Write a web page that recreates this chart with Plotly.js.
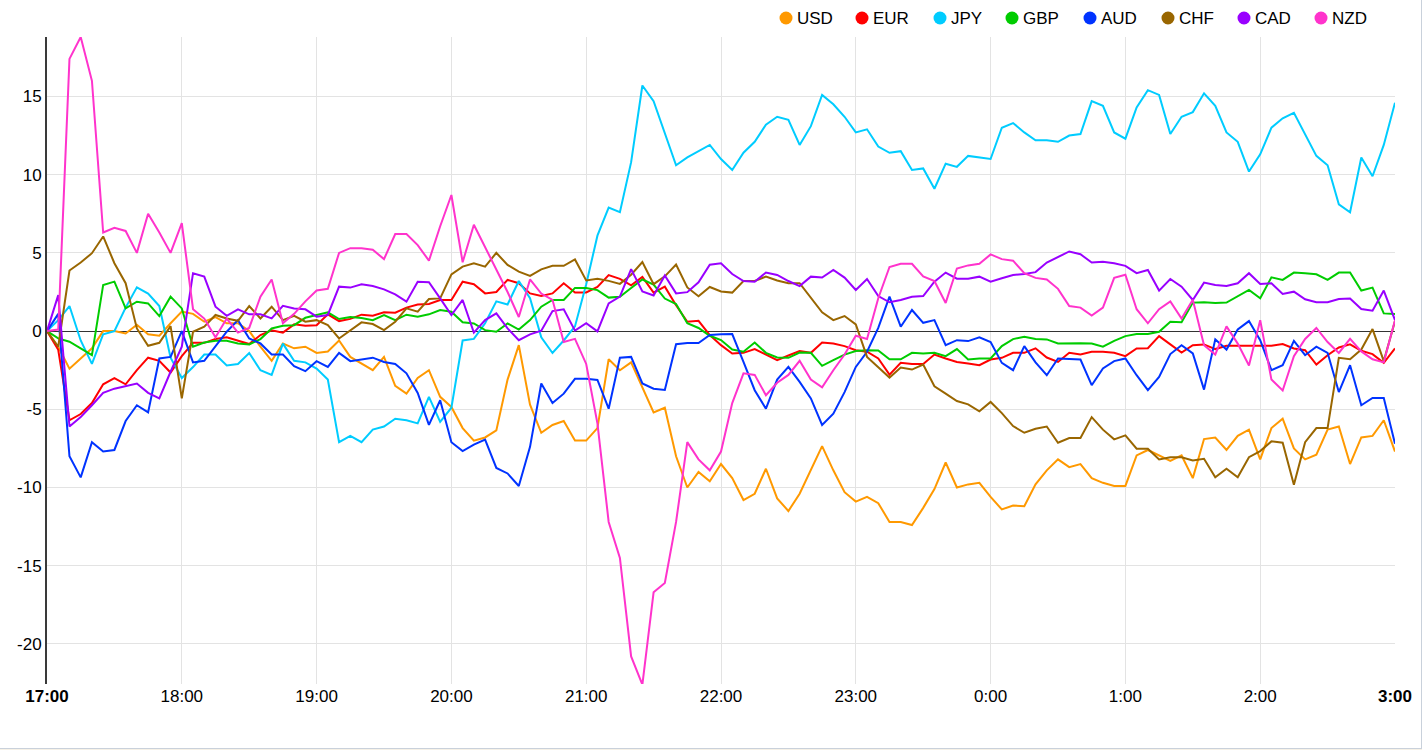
<!DOCTYPE html>
<html>
<head>
<meta charset="utf-8">
<script src="https://cdn.plot.ly/plotly-3.0.1.min.js"></script>
<style>
html,body{margin:0;padding:0;background:#f6f1e7;}
#chart{width:1421px;height:748px;background:#fff;border-right:1px solid #c9d1db;border-bottom:1px solid #c9d1db;}
</style>
</head>
<body>
<div id="chart"></div>
<script>
const currencies = ['USD','EUR','JPY','GBP','AUD','CHF','CAD','NZD'];
const colors = ['#ff9900','#ff0000','#00ccff','#00cc00','#0033ff','#996600','#9900ff','#ff33cc'];
const tickLabels = ['17:00','18:00','19:00','20:00','21:00','22:00','23:00','0:00','1:00','2:00','3:00'];
const yTickValues = [-20,-15,-10,-5,0,5,10,15];

const USD = [0,-1.0,-2.4,-1.75,-1.1,0,0,-0.15,0.4,-0.2,
-0.3,0.5,1.25,1.1,0.6,0.9,0.5,0.5,0,-1.0,
-1.9,-0.8,-1.1,-1.0,-1.4,-1.3,-0.6,-1.65,-2.1,-2.5,
-1.65,-3.5,-4.0,-3.0,-2.5,-4.2,-4.85,-6.2,-7.0,-6.8,
-6.35,-3.1,-0.9,-4.7,-6.5,-6.0,-5.75,-7.0,-7.0,-6.2,
-1.8,-2.5,-2.0,-3.6,-5.2,-4.9,-8.0,-10.0,-9.0,-9.6,
-8.5,-9.4,-10.8,-10.4,-8.8,-10.7,-11.5,-10.4,-8.9,-7.35,
-8.9,-10.3,-10.9,-10.6,-11.0,-12.2,-12.2,-12.4,-11.3,-10.1,
-8.4,-10.0,-9.8,-9.7,-10.6,-11.4,-11.15,-11.2,-9.8,-8.9,
-8.2,-8.7,-8.5,-9.4,-9.7,-9.9,-9.9,-7.95,-7.6,-7.95,
-8.3,-7.95,-9.4,-6.9,-6.8,-7.6,-6.7,-6.3,-8.2,-6.2,
-5.6,-7.5,-8.2,-7.9,-6.3,-6.1,-8.5,-6.8,-6.7,-5.7,
-7.7];

const EUR = [0,-1.2,-5.7,-5.3,-4.6,-3.4,-3.0,-3.4,-2.5,-1.7,
-1.9,-2.65,-1.6,-0.75,-0.75,-0.5,-0.4,-0.6,-0.83,-0.25,
0.05,-0.1,0.43,0.34,0.38,1.07,0.64,0.78,1.05,0.98,
1.2,1.18,1.5,1.7,1.73,1.99,1.99,3.16,3.0,2.41,
2.5,3.27,3.06,2.41,2.24,2.41,3.06,2.47,2.47,2.82,
3.58,3.34,2.92,3.46,2.46,2.84,1.65,0.6,0.66,-0.25,
-0.9,-1.43,-1.39,-1.15,-1.5,-1.86,-1.56,-1.28,-1.39,-0.73,
-0.79,-0.96,-1.22,-1.32,-1.75,-2.78,-2.03,-2.1,-2.1,-1.5,
-1.75,-1.97,-2.07,-2.18,-1.82,-1.71,-1.39,-1.39,-1.1,-1.69,
-1.97,-1.39,-1.5,-1.32,-1.32,-1.39,-1.6,-1.11,-1.09,-0.32,
-0.85,-1.37,-0.9,-0.85,-1.15,-0.94,-0.94,-0.92,-0.94,-0.94,
-0.83,-1.11,-1.22,-2.14,-1.54,-1.05,-0.85,-1.26,-1.47,-2.03,
-1.11];

const JPY = [0,0.7,1.6,-0.6,-2.1,-0.2,0.0,1.5,2.8,2.4,
1.6,-1.7,-3.0,-2.3,-1.5,-1.5,-2.2,-2.1,-1.4,-2.5,
-2.8,-0.8,-1.9,-2.0,-2.4,-3.1,-7.1,-6.7,-7.1,-6.3,
-6.1,-5.6,-5.7,-5.9,-4.2,-5.8,-4.9,-0.6,-0.5,0.5,
1.9,1.7,3.2,2.1,-0.4,-1.4,-0.6,0.3,3.0,6.1,
7.9,7.6,10.8,15.7,14.7,12.7,10.6,11.1,11.5,11.9,
11.0,10.3,11.4,12.1,13.2,13.7,13.5,11.9,13.1,15.1,
14.5,13.7,12.7,12.9,11.8,11.4,11.5,10.3,10.4,9.1,
10.7,10.5,11.2,11.1,11.0,13.0,13.3,12.7,12.2,12.2,
12.1,12.5,12.6,14.7,14.4,12.7,12.3,14.3,15.4,15.1,
12.6,13.7,14.0,15.2,14.4,12.7,12.1,10.2,11.3,13.0,
13.6,13.95,12.6,11.2,10.6,8.1,7.6,11.1,9.9,11.9,
14.6];

const GBP = [0,-0.47,-0.68,-1.1,-1.54,2.95,3.16,1.45,1.88,1.77,
0.96,2.2,1.45,-1.0,-0.73,-0.62,-0.62,-0.79,-0.85,-0.51,
0.17,0.34,0.38,0.85,1.03,1.2,0.77,0.9,0.83,0.7,
1.03,0.7,1.05,0.92,1.07,1.35,1.24,0.56,0.49,0.06,
-0.04,0.49,0.1,0.7,1.56,1.99,1.99,2.76,2.76,2.62,
2.14,2.2,2.76,3.3,2.97,2.08,1.73,0.5,0.2,-0.3,
-0.57,-1.18,-1.32,-0.73,-1.39,-1.69,-1.71,-1.37,-1.39,-2.22,
-1.86,-1.5,-1.28,-1.22,-1.24,-1.8,-1.8,-1.39,-1.43,-1.39,
-1.6,-1.15,-1.82,-1.75,-1.75,-0.96,-0.51,-0.36,-0.5,-0.53,
-0.79,-0.77,-0.77,-0.79,-1.0,-0.62,-0.32,-0.19,-0.19,-0.04,
0.6,0.56,1.82,1.84,1.8,1.82,2.2,2.63,2.1,3.44,
3.27,3.74,3.7,3.63,3.27,3.74,3.74,2.59,2.78,1.13,
1.09];

const AUD = [0,1.1,-8.0,-9.35,-7.1,-7.7,-7.6,-5.75,-4.74,-5.2,
-1.75,-1.65,0.0,-2.0,-1.9,-1.0,-0.04,0.7,-0.47,-0.79,
-1.5,-1.5,-2.24,-2.56,-1.92,-2.29,-1.39,-1.92,-1.8,-1.7,
-1.97,-2.1,-2.7,-3.95,-6.0,-4.42,-7.1,-7.67,-7.26,-6.94,
-8.75,-9.1,-9.9,-7.4,-3.35,-4.6,-4.0,-3.05,-3.04,-3.12,
-4.96,-1.7,-1.65,-3.35,-3.68,-3.76,-0.84,-0.76,-0.76,-0.25,
-0.2,-0.19,-1.97,-3.78,-4.96,-3.1,-2.29,-3.25,-4.3,-6.0,
-5.28,-3.9,-2.29,-1.32,0.2,2.2,0.28,1.35,0.53,0.7,
-0.9,-0.58,-0.64,-0.4,-0.7,-2.03,-2.5,-0.96,-2.0,-2.82,
-1.75,-1.8,-1.82,-3.46,-2.39,-1.92,-1.75,-2.82,-3.78,-2.93,
-1.47,-0.9,-1.43,-3.74,-0.53,-1.18,0.1,0.64,-0.58,-2.5,
-2.18,-0.62,-1.54,-1.0,-1.39,-3.9,-2.18,-4.74,-4.27,-4.27,
-7.2];

const CHF = [0,-1.0,3.87,4.38,4.98,6.05,4.34,3.06,0.17,-0.94,
-0.75,0.32,-4.3,-0.04,0.28,1.03,0.81,0.66,1.6,0.81,
1.56,0.7,0.98,0.6,0.7,0.38,-0.47,0.06,0.56,0.45,
0.06,0.6,1.45,1.24,2.05,2.09,3.63,4.12,4.34,4.12,
5.0,4.23,3.8,3.53,3.95,4.17,4.17,4.58,3.24,3.35,
3.21,3.02,3.6,4.41,3.0,3.5,4.26,2.79,2.23,2.82,
2.53,2.46,3.2,3.2,3.48,3.23,3.06,3.06,2.14,1.2,
0.7,0.96,0.43,-1.65,-2.31,-2.97,-2.33,-2.46,-2.14,-3.53,
-4.0,-4.47,-4.68,-5.13,-4.53,-5.24,-6.07,-6.5,-6.24,-6.1,
-7.14,-6.84,-6.84,-5.5,-6.3,-6.92,-6.67,-7.52,-7.52,-8.2,
-8.06,-8.06,-8.27,-8.16,-9.34,-8.8,-9.34,-8.06,-7.67,-7.05,
-7.14,-9.83,-7.1,-6.2,-6.2,-1.71,-1.8,-1.18,0.13,-1.92,
0.64];

const CAD = [0,2.3,-6.1,-5.5,-4.74,-3.95,-3.68,-3.53,-3.35,-3.95,
-4.3,-2.6,-1.0,3.7,3.48,1.56,0.98,1.39,1.07,1.07,
0.81,1.62,1.45,1.39,0.92,1.03,2.84,2.78,2.99,2.88,
2.67,2.35,1.88,3.16,3.12,2.09,1.03,1.99,-0.1,0.7,
1.13,0.17,-0.58,-0.21,0.02,1.28,1.39,0.03,0.5,-0.02,
1.77,2.2,3.96,2.53,2.28,3.55,2.41,2.49,3.12,4.24,
4.33,3.65,3.2,3.16,3.74,3.59,3.2,2.88,3.48,3.42,
3.91,3.42,2.63,3.33,2.24,1.84,1.99,2.2,2.24,3.16,
3.74,3.35,3.35,3.48,3.16,3.38,3.59,3.65,3.77,4.38,
4.76,5.09,4.91,4.38,4.44,4.34,4.17,3.7,3.91,2.59,
3.33,2.84,1.99,3.1,2.95,2.88,3.06,3.7,3.01,3.06,
2.37,2.52,2.03,1.84,1.84,2.05,2.09,1.41,1.3,2.59,
0.7];

const NZD = [0,0.1,17.4,18.8,16.0,6.3,6.6,6.4,5.0,7.5,
6.3,5.0,6.9,1.4,0.8,-0.4,0.8,-0.1,0.2,2.2,
3.3,0.5,1.1,1.9,2.6,2.7,5.0,5.3,5.3,5.2,
4.6,6.2,6.2,5.5,4.5,6.7,8.7,4.4,6.8,5.4,
3.9,2.5,0.9,3.3,2.4,2.0,-0.7,-0.5,-2.1,-5.9,
-12.2,-14.5,-20.8,-22.6,-16.7,-16.1,-12.2,-7.1,-8.2,-8.9,
-7.7,-4.6,-2.7,-2.8,-4.1,-3.3,-2.8,-1.9,-3.1,-3.6,
-2.5,-1.5,-0.3,-0.5,2.1,4.1,4.3,4.3,3.5,3.2,
1.8,4.0,4.2,4.3,4.9,4.6,4.5,3.7,3.4,3.3,
2.7,1.6,1.5,1.0,1.5,3.4,3.6,1.4,0.5,1.4,
1.9,0.8,2.0,-0.9,-1.5,0.3,-0.8,-2.2,0.7,-3.1,
-3.8,-1.6,-0.5,0.2,-0.7,-1.4,-0.5,-1.3,-1.8,-2.0,
0.7];

const seriesValues = [USD, EUR, JPY, GBP, AUD, CHF, CAD, NZD];

// minutes since 17:00, one reading every 5 minutes
const minutes = USD.map((_, i) => i * 5);
const tickMinutes = tickLabels.map((_, i) => i * 60);

const traces = currencies.map((name, k) => ({
  type: 'scatter',
  mode: 'lines',
  name: name,
  x: minutes,
  y: seriesValues[k],
  line: {color: colors[k], width: 2},
  hoverinfo: 'x+y+name'
}));

// plot area geometry (pixels) used for the legend placement
const W = 1421, H = 748;
const M = {l: 47, r: 26, t: 37, b: 64};
const plotW = W - M.l - M.r, plotH = H - M.t - M.b;
const legendCircleX = [786, 862, 940, 1012, 1090, 1168, 1244, 1321];
const legendY = 18;
const py = (H - M.b - legendY) / plotH;

const shapes = currencies.map((name, k) => ({
  type: 'circle', xref: 'paper', yref: 'paper',
  xsizemode: 'pixel', ysizemode: 'pixel',
  xanchor: (legendCircleX[k] - M.l) / plotW, yanchor: py,
  x0: -6.5, x1: 6.5, y0: -6.5, y1: 6.5,
  fillcolor: colors[k], line: {width: 0}, layer: 'above'
}));
const annotations = currencies.map((name, k) => ({
  xref: 'paper', yref: 'paper',
  x: (legendCircleX[k] + 9 - M.l) / plotW, y: py,
  xanchor: 'left', yanchor: 'middle',
  text: name, showarrow: false,
  font: {size: 17, color: '#000'}
}));

const tickText = tickLabels.map((t, i) => (i === 0 || i === tickLabels.length - 1) ? '<b>' + t + '</b>' : t);

const layout = {
  width: W, height: H,
  margin: M,
  paper_bgcolor: '#ffffff', plot_bgcolor: '#ffffff',
  showlegend: false,
  font: {family: '"Liberation Sans", Arial, sans-serif', size: 17, color: '#000'},
  xaxis: {
    range: [0, 600], tickvals: tickMinutes, ticktext: tickText,
    showgrid: true, gridcolor: '#e3e3e3', gridwidth: 1,
    zeroline: false, showline: false, ticks: '',
    tickfont: {size: 17, color: '#000'}, fixedrange: true
  },
  yaxis: {
    range: [-22.56, 18.8], tickvals: yTickValues, ticktext: yTickValues.map(v => String(v)),
    showgrid: true, gridcolor: '#e3e3e3', gridwidth: 1,
    zeroline: true, zerolinecolor: '#333333', zerolinewidth: 1,
    showline: true, linecolor: '#3a3a3a', linewidth: 2, ticks: '',
    tickfont: {size: 17, color: '#000'}, fixedrange: true
  },
  shapes: shapes,
  annotations: annotations
};

Plotly.newPlot('chart', traces, layout, {displayModeBar: false, responsive: false});
</script>
</body>
</html>
